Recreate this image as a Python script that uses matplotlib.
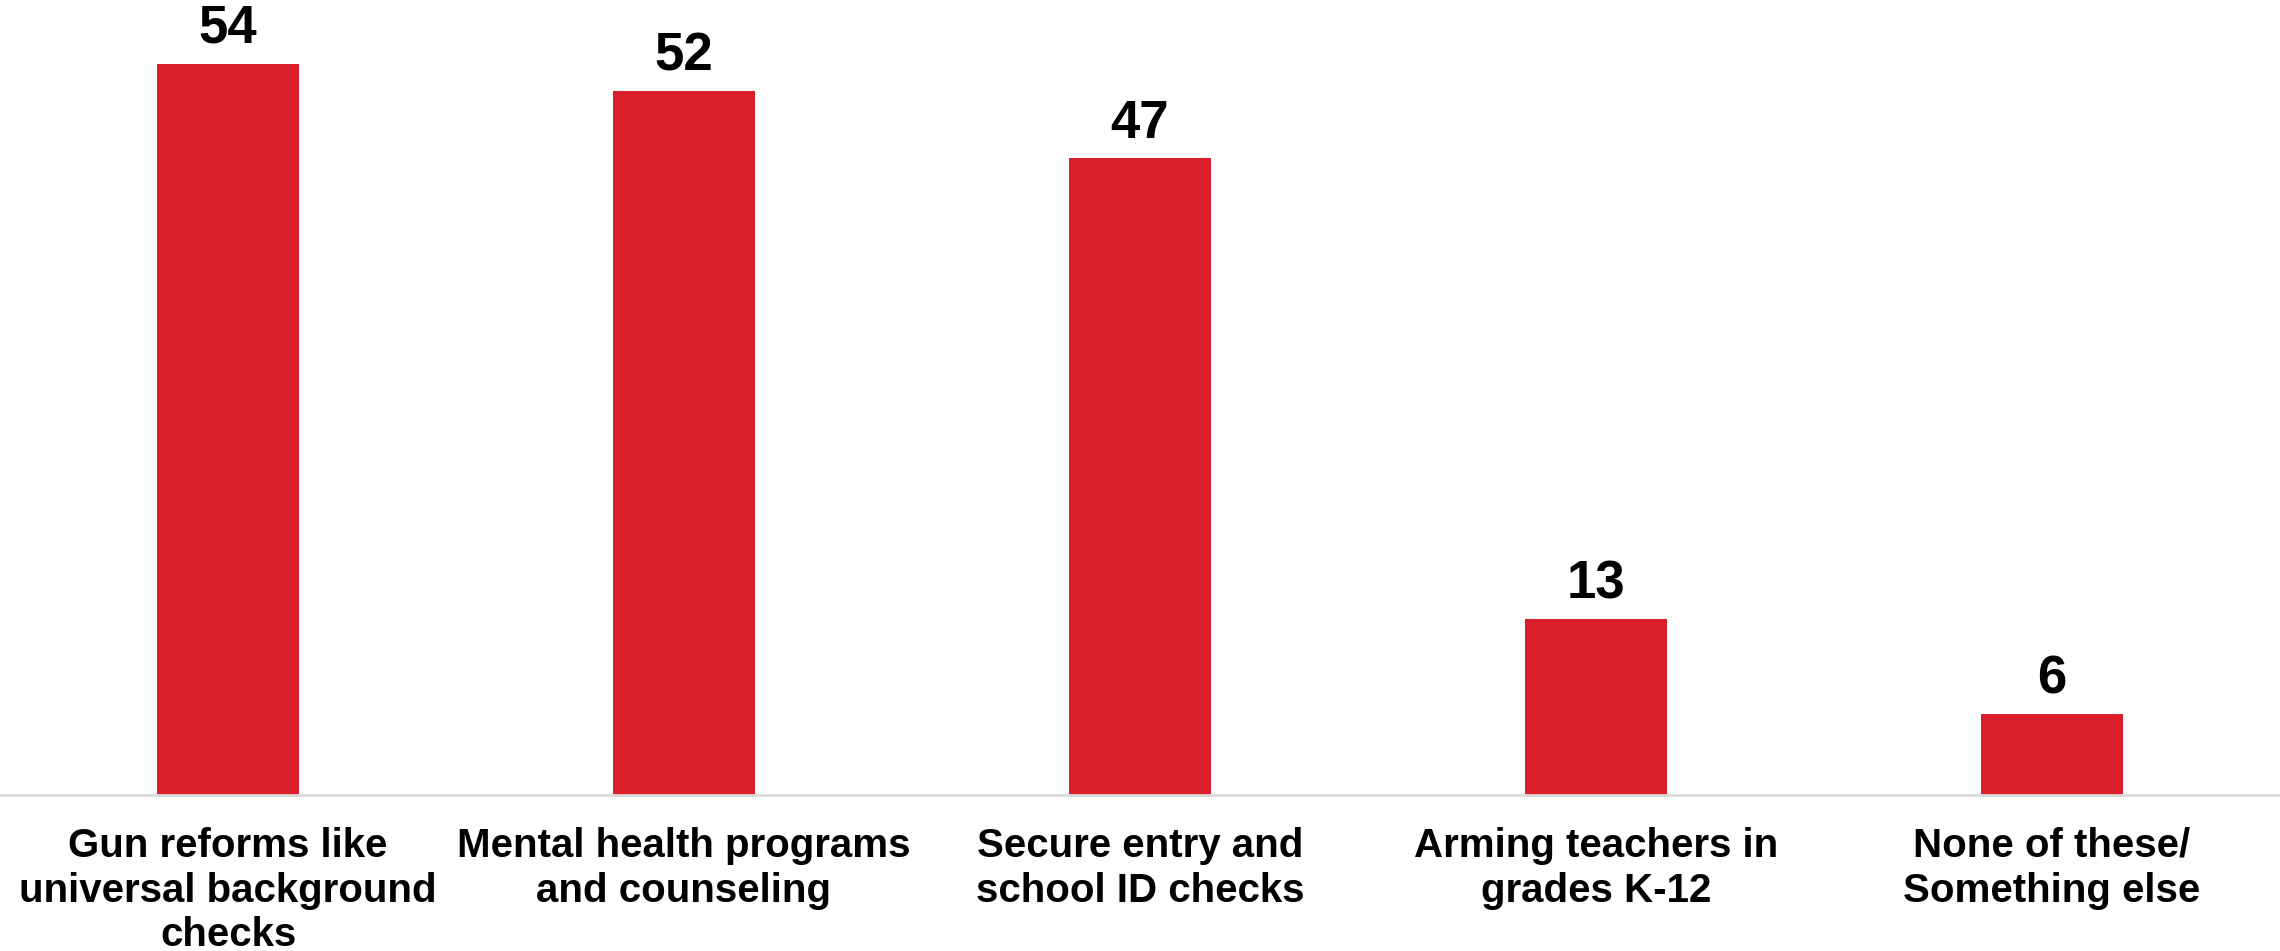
import matplotlib.pyplot as plt

categories = ['Gun reforms like\nuniversal background\nchecks',
              'Mental health programs\nand counseling',
              'Secure entry and\nschool ID checks',
              'Arming teachers in\ngrades K-12',
              'None of these/\nSomething else']
values = [54, 52, 47, 13, 6]

plt.rcParams['font.family'] = ['Liberation Sans', 'DejaVu Sans']

fig = plt.figure(figsize=(22.8, 9.51), dpi=100)
ax = fig.add_axes([0, 0.164, 1, 0.836])

x = range(len(categories))
bars = ax.bar(x, values, width=0.31, color='#da1f2a')

for b, v in zip(bars, values):
    ax.annotate(str(v), (b.get_x() + b.get_width() / 2, v),
                xytext=(0, 7), textcoords='offset points',
                ha='center', va='bottom', fontsize=38, fontweight='bold')

ax.set_xlim(-0.5, 4.5)
ax.set_ylim(0, 58.7)
ax.set_xticks(list(x))
ax.set_xticklabels(categories, fontsize=29, fontweight='bold', linespacing=1.22)
ax.tick_params(axis='x', length=0, pad=23)
ax.set_yticks([])
for s in ['top', 'right', 'left']:
    ax.spines[s].set_visible(False)
ax.spines['bottom'].set_color('#d9d9d9')
ax.spines['bottom'].set_linewidth(2)

plt.savefig('out.png', dpi=100)
